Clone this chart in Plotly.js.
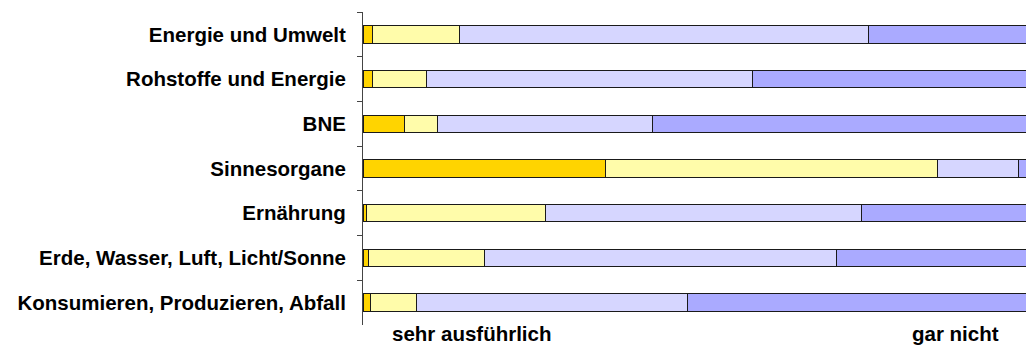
<!DOCTYPE html>
<html>
<head>
<meta charset="utf-8">
<script src="https://cdn.plot.ly/plotly-3.0.1.min.js"></script>
<style>
  html, body { margin: 0; padding: 0; background: #fff; }
  #chart { width: 1030px; height: 347px; }
</style>
</head>
<body>
<div id="chart"></div>
<script>
// Themen (top to bottom)
const topics = [
  "Energie und Umwelt",
  "Rohstoffe und Energie",
  "BNE",
  "Sinnesorgane",
  "Ernährung",
  "Erde, Wasser, Luft, Licht/Sonne",
  "Konsumieren, Produzieren, Abfall"
];

// Anteile in Prozent je Antwortstufe
const sehrAusfuehrlich = [1.4, 1.4, 6.2, 36.65, 0.5, 0.85, 1.2];
const ausfuehrlich     = [13.2, 8.25, 5.0, 49.95, 27.0, 17.45, 6.9];
const wenig            = [61.6, 49.15, 32.5, 12.3, 47.7, 53.1, 40.9];
const garNicht         = [23.8, 41.2, 56.3, 1.1, 24.8, 28.6, 51.0];

const scaleLabels = ["sehr ausführlich", "gar nicht"];
const scaleLabelPos = [16.5, 89.4];

const series = [
  { name: "sehr ausführlich", values: sehrAusfuehrlich, color: "#FFD400" },
  { name: "ausführlich",      values: ausfuehrlich,     color: "#FFFCAA" },
  { name: "wenig",            values: wenig,            color: "#D6D6FF" },
  { name: "gar nicht",        values: garNicht,         color: "#AAAAFF" }
];

const traces = series.map(s => ({
  type: "bar",
  orientation: "h",
  name: s.name,
  y: topics,
  x: s.values,
  width: 0.39,
  marker: { color: s.color, line: { color: "#1a1a1a", width: 1 } },
  hoverinfo: "name+x"
}));

const labelFont = { family: "Liberation Sans, Arial, sans-serif", size: 20.5, color: "#000" };

const layout = {
  width: 1030,
  height: 347,
  barmode: "stack",
  bargap: 0,
  showlegend: false,
  plot_bgcolor: "#fff",
  paper_bgcolor: "#fff",
  margin: { l: 363, r: 4, t: 12, b: 22 },
  xaxis: {
    range: [0, 100],
    showgrid: false,
    zeroline: false,
    showline: false,
    showticklabels: false,
    ticks: "",
    fixedrange: true
  },
  yaxis: {
    type: "category",
    autorange: "reversed",
    showgrid: false,
    zeroline: false,
    showline: true,
    linecolor: "#444",
    linewidth: 1,
    ticks: "outside",
    tickson: "boundaries",
    ticklen: 5,
    tickcolor: "#444",
    tickfont: { family: "Liberation Sans, Arial, sans-serif", size: 20.5, color: "#000", weight: "bold" },
    ticklabelstandoff: 12,
    fixedrange: true
  },
  annotations: scaleLabels.map((t, i) => ({
    text: "<b>" + t + "</b>",
    x: scaleLabelPos[i],
    xref: "x",
    y: 0,
    yref: "paper",
    yshift: -22,
    xanchor: "center",
    yanchor: "bottom",
    showarrow: false,
    font: labelFont
  }))
};

Plotly.newPlot("chart", traces, layout, { displayModeBar: false, staticPlot: true });
</script>
</body>
</html>
